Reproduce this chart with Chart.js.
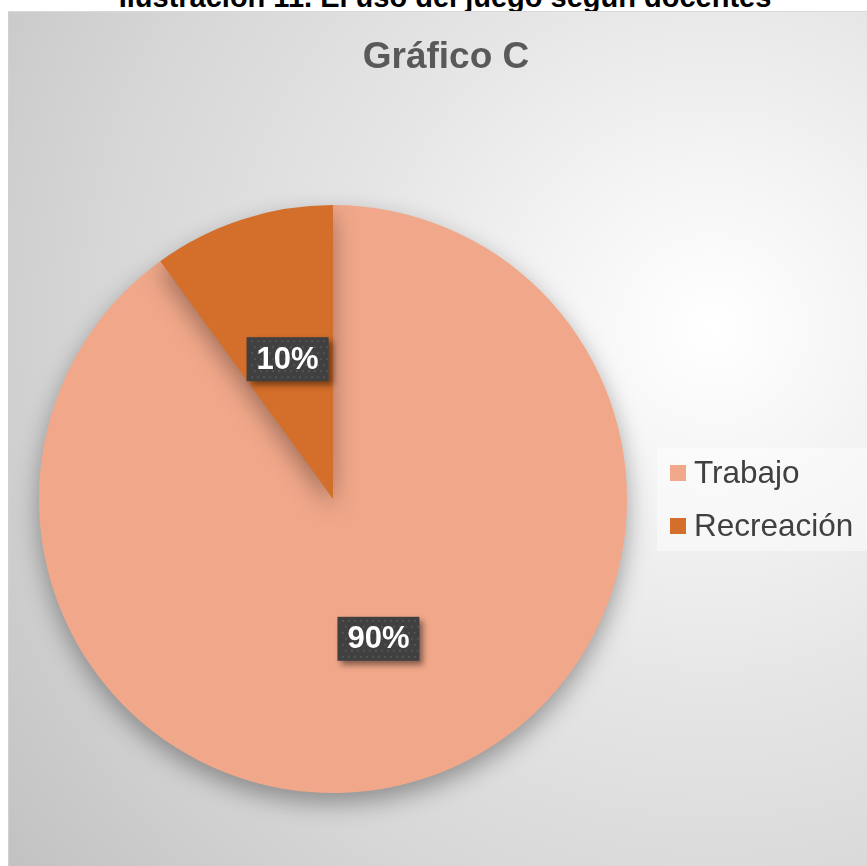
<!DOCTYPE html>
<html lang="es">
<head>
<meta charset="utf-8">
<title>Gráfico C</title>
<script src="https://cdn.jsdelivr.net/npm/chart.js@4/dist/chart.umd.min.js"></script>
<style>
    html, body {
        margin: 0;
        padding: 0;
        width: 867px;
        height: 866px;
        overflow: hidden;
        background: #ffffff;
        font-family: "Liberation Sans", Arial, sans-serif;
    }
    .caption {
        position: absolute;
        left: 0;
        width: 890px;
        top: -23px;
        text-align: center;
        font-weight: bold;
        font-size: 29px;
        line-height: 40px;
        color: #000000;
        white-space: nowrap;
    }
    .chart-box {
        position: absolute;
        left: 8px;
        top: 11px;
        width: 859px;
        height: 855px;
        border-top: 1px solid #d8d8d8;
        border-left: 1px solid #d0d0d0;
        box-sizing: border-box;
        background: radial-gradient(circle at 82% 37%, #ffffff 0%, #f7f7f7 14%, #e6e6e6 40%, #d6d6d6 70%, #c2c2c2 100%);
    }
    .chart-box canvas {
        position: absolute;
        left: 0;
        top: 0;
    }
</style>
</head>
<body>
<div class="caption">Ilustración 11. El uso del juego según docentes</div>
<div class="chart-box">
    <canvas id="pieChart" width="858" height="854"></canvas>
</div>
<script>
// Chart data
const chartTitle = 'Gráfico C';
const categories = ['Trabajo', 'Recreación'];
const shares = [90, 10];
const sliceColors = ['#F1A88A', '#D46E2B'];

// Soft shadow under the pie
const pieShadow = {
    id: 'pieShadow',
    beforeDatasetsDraw(chart) {
        const ctx = chart.ctx;
        ctx.save();
        ctx.shadowColor = 'rgba(0, 0, 0, 0.35)';
        ctx.shadowBlur = 24;
        ctx.shadowOffsetX = 0;
        ctx.shadowOffsetY = 10;
    },
    afterDatasetsDraw(chart) {
        chart.ctx.restore();
    }
};

// Dark percentage boxes on the slices
const sliceLabels = {
    id: 'sliceLabels',
    afterDatasetsDraw(chart) {
        const ctx = chart.ctx;
        const meta = chart.getDatasetMeta(0);
        const data = chart.data.datasets[0].data;
        const total = data.reduce((a, b) => a + b, 0);
        ctx.save();
        ctx.font = 'bold 31px "Liberation Sans", Arial, sans-serif';
        ctx.textAlign = 'center';
        ctx.textBaseline = 'middle';
        meta.data.forEach((arc, i) => {
            const pos = arc.tooltipPosition();
            const text = Math.round(data[i] / total * 100) + '%';
            const w = 82, h = 44;
            const x = pos.x - w / 2, y = pos.y - h / 2;
            // box with shadow
            ctx.shadowColor = 'rgba(0, 0, 0, 0.45)';
            ctx.shadowBlur = 6;
            ctx.shadowOffsetX = 4;
            ctx.shadowOffsetY = 4;
            ctx.fillStyle = '#404040';
            ctx.fillRect(x, y, w, h);
            ctx.shadowColor = 'transparent';
            // dot pattern
            ctx.fillStyle = 'rgba(255, 255, 255, 0.10)';
            for (let dy = 3; dy < h; dy += 6) {
                for (let dx = 3 + ((dy / 6) % 2) * 3; dx < w; dx += 6) {
                    ctx.fillRect(x + dx, y + dy, 2, 2);
                }
            }
            ctx.fillStyle = '#ffffff';
            ctx.fillText(text, pos.x, pos.y + 1);
        });
        ctx.restore();
    }
};

// Title and legend panel
const titleAndLegend = {
    id: 'titleAndLegend',
    afterDraw(chart) {
        const ctx = chart.ctx;
        ctx.save();
        ctx.fillStyle = '#595959';
        ctx.font = 'bold 37px "Liberation Sans", Arial, sans-serif';
        ctx.textAlign = 'center';
        ctx.textBaseline = 'middle';
        ctx.fillText(chartTitle, 437, 46);

        // legend
        const lx = 648, ly = 436;
        ctx.fillStyle = 'rgba(255, 255, 255, 0.45)';
        ctx.fillRect(lx, ly, 211, 103);
        ctx.font = '31.5px "Liberation Sans", Arial, sans-serif';
        ctx.textAlign = 'left';
        chart.data.labels.forEach((label, i) => {
            const cy = ly + 25 + i * 53;
            ctx.fillStyle = chart.data.datasets[0].backgroundColor[i];
            ctx.fillRect(lx + 13, cy - 8, 16, 16);
            ctx.fillStyle = '#404040';
            ctx.fillText(label, lx + 37, cy + 1);
        });
        ctx.restore();
    }
};

new Chart(document.getElementById('pieChart'), {
    type: 'pie',
    data: {
        labels: categories,
        datasets: [{
            data: shares,
            backgroundColor: sliceColors,
            borderWidth: 0
        }]
    },
    options: {
        responsive: false,
        animation: false,
        layout: {
            padding: { left: 30, right: 240, top: 193, bottom: 73 }
        },
        plugins: {
            legend: { display: false },
            title: { display: false },
            tooltip: { enabled: false }
        }
    },
    plugins: [pieShadow, sliceLabels, titleAndLegend]
});
</script>
</body>
</html>
